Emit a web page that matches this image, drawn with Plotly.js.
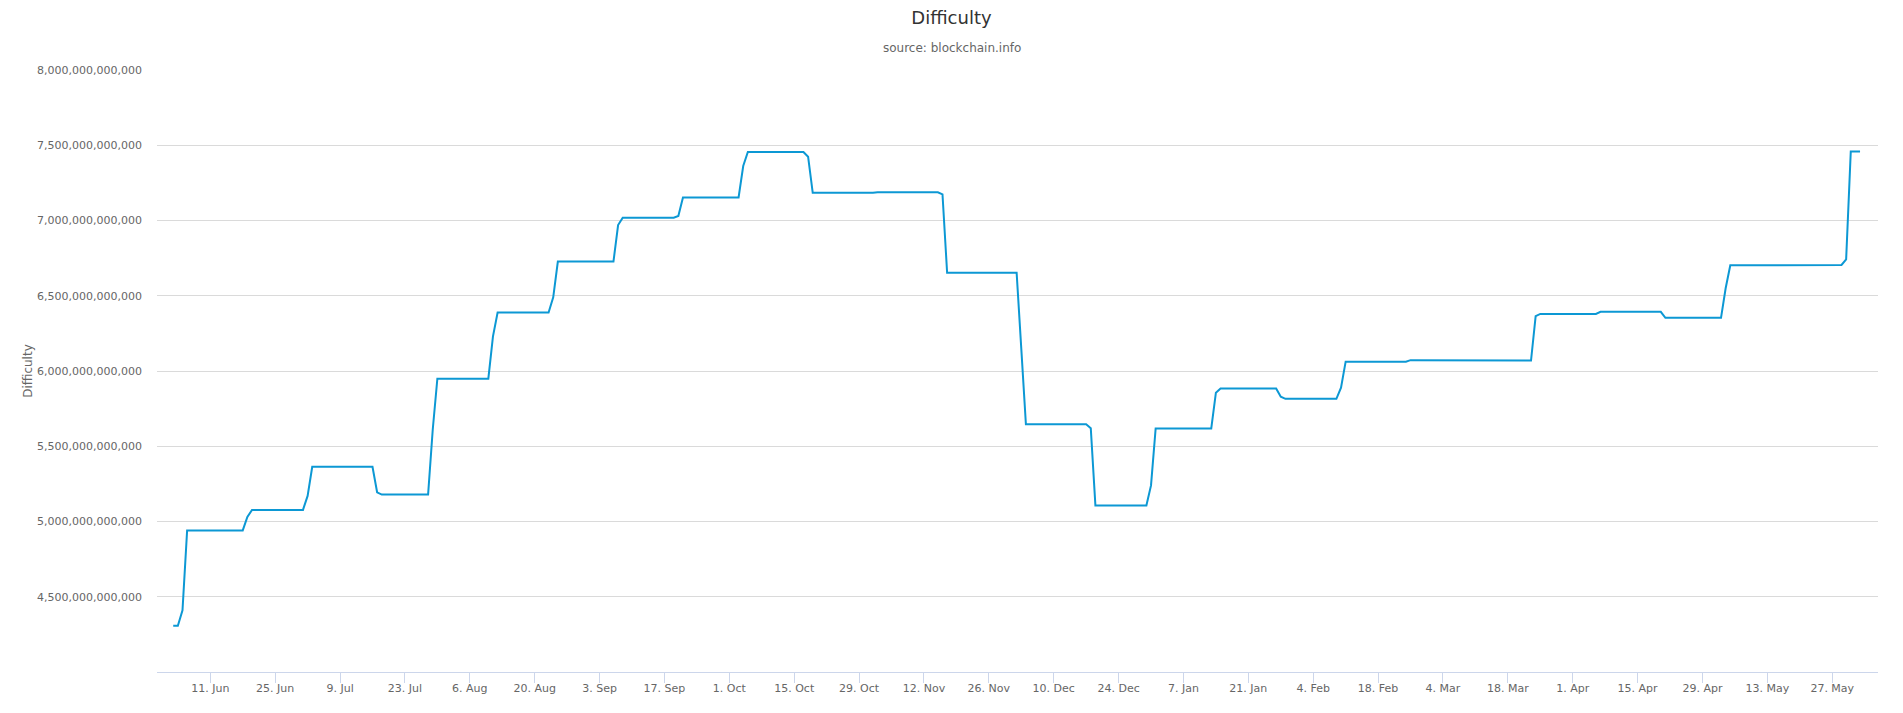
<!DOCTYPE html>
<html>
<head>
<meta charset="utf-8">
<script src="https://cdn.plot.ly/plotly-3.0.1.min.js"></script>
<style>html,body{margin:0;padding:0;background:#fff;}#chart{width:1903px;height:713px;}</style>
</head>
<body>
<div id="chart"></div>
<script>
// Difficulty readings (corner points of the step line)
const dates = [
  '2018-06-03','2018-06-04','2018-06-05','2018-06-06',
  '2018-06-18','2018-06-19','2018-06-20',
  '2018-07-01','2018-07-02','2018-07-03',
  '2018-07-16','2018-07-17','2018-07-18',
  '2018-07-28','2018-07-29','2018-07-30',
  '2018-08-10','2018-08-11','2018-08-12',
  '2018-08-23','2018-08-24','2018-08-25',
  '2018-09-06','2018-09-07','2018-09-08',
  '2018-09-19','2018-09-20','2018-09-21',
  '2018-10-03','2018-10-04','2018-10-05',
  '2018-10-17','2018-10-18','2018-10-19',
  '2018-11-01','2018-11-02',
  '2018-11-15','2018-11-16','2018-11-17',
  '2018-12-02','2018-12-03','2018-12-04',
  '2018-12-17','2018-12-18','2018-12-19',
  '2018-12-30','2018-12-31','2019-01-01',
  '2019-01-13','2019-01-14','2019-01-15',
  '2019-01-27','2019-01-28','2019-01-29',
  '2019-02-09','2019-02-10','2019-02-11',
  '2019-02-24','2019-02-25',
  '2019-03-11','2019-03-12',
  '2019-03-23','2019-03-24','2019-03-25',
  '2019-04-06','2019-04-07',
  '2019-04-20','2019-04-21',
  '2019-05-03','2019-05-04','2019-05-05',
  '2019-05-17','2019-05-18',
  '2019-05-29','2019-05-30','2019-05-31',
  '2019-06-02'
];
const difficulty = [
  4.307e12,4.307e12,4.41e12,4.941e12,
  4.941e12,5.03e12,5.077e12,
  5.077e12,5.17e12,5.364e12,
  5.364e12,5.194e12,5.179e12,
  5.179e12,5.61e12,5.949e12,
  5.949e12,6.23e12,6.389e12,
  6.389e12,6.49e12,6.727e12,
  6.727e12,6.97e12,7.019e12,
  7.019e12,7.03e12,7.153e12,
  7.153e12,7.362e12,7.455e12,
  7.455e12,7.424e12,7.184e12,
  7.184e12,7.187e12,
  7.187e12,7.174e12,6.653e12,
  6.653e12,6.15e12,5.646e12,
  5.646e12,5.62e12,5.106e12,
  5.106e12,5.24e12,5.618e12,
  5.618e12,5.856e12,5.884e12,
  5.884e12,5.829e12,5.815e12,
  5.815e12,5.889e12,6.062e12,
  6.062e12,6.072e12,
  6.072e12,6.069e12,
  6.069e12,6.365e12,6.379e12,
  6.379e12,6.393e12,
  6.393e12,6.353e12,
  6.353e12,6.55e12,6.702e12,
  6.702e12,6.705e12,
  6.705e12,6.742e12,7.459e12,
  7.459e12
];
const xTickVals = [
  '2018-06-11','2018-06-25','2018-07-09','2018-07-23','2018-08-06','2018-08-20',
  '2018-09-03','2018-09-17','2018-10-01','2018-10-15','2018-10-29','2018-11-12',
  '2018-11-26','2018-12-10','2018-12-24','2019-01-07','2019-01-21','2019-02-04',
  '2019-02-18','2019-03-04','2019-03-18','2019-04-01','2019-04-15','2019-04-29',
  '2019-05-13','2019-05-27'
];
const xTickText = [
  '11. Jun','25. Jun','9. Jul','23. Jul','6. Aug','20. Aug',
  '3. Sep','17. Sep','1. Oct','15. Oct','29. Oct','12. Nov',
  '26. Nov','10. Dec','24. Dec','7. Jan','21. Jan','4. Feb',
  '18. Feb','4. Mar','18. Mar','1. Apr','15. Apr','29. Apr',
  '13. May','27. May'
];
const yTickVals = [4.5e12,5e12,5.5e12,6e12,6.5e12,7e12,7.5e12,8e12];
const yTickText = [
  '4,500,000,000,000','5,000,000,000,000','5,500,000,000,000','6,000,000,000,000',
  '6,500,000,000,000','7,000,000,000,000','7,500,000,000,000','8,000,000,000,000'
];

const FONT = 'DejaVu Sans, Verdana, sans-serif';

const trace = {
  x: dates,
  y: difficulty,
  type: 'scatter',
  mode: 'lines',
  name: 'Difficulty',
  line: {color: '#0c98d4', width: 2},
  hoverinfo: 'x+y'
};

const layout = {
  width: 1903,
  height: 713,
  paper_bgcolor: '#ffffff',
  plot_bgcolor: '#ffffff',
  showlegend: false,
  margin: {l: 157, r: 25, t: 70, b: 41},
  font: {family: FONT, color: '#666666'},
  title: {
    text: 'Difficulty',
    font: {family: FONT, size: 18, color: '#333333'},
    x: 0.5, xref: 'container', xanchor: 'center',
    y: 1 - 18/713, yref: 'container', yanchor: 'middle'
  },
  xaxis: {
    type: 'date',
    range: ['2018-05-30 12:00', '2019-06-05 21:00'],
    tickmode: 'array',
    tickvals: xTickVals,
    ticktext: xTickText,
    ticks: 'outside',
    ticklen: 10,
    tickwidth: 1,
    tickcolor: '#ccd6eb',
    ticklabelstandoff: -4,
    showline: true,
    linecolor: '#ccd6eb',
    linewidth: 1,
    showgrid: false,
    zeroline: false,
    tickfont: {family: FONT, size: 11, color: '#666666'},
    automargin: false
  },
  yaxis: {
    range: [4e12, 8e12],
    tickmode: 'array',
    tickvals: yTickVals,
    ticktext: yTickText,
    ticks: '',
    showgrid: true,
    gridcolor: '#dadada',
    gridwidth: 1,
    zeroline: false,
    showline: false,
    ticklabelstandoff: 14,
    tickfont: {family: FONT, size: 11, color: '#666666'},
    title: {text: 'Difficulty', font: {family: FONT, size: 12, color: '#666666'}},
    automargin: false
  },
  annotations: [{
    text: 'source: blockchain.info',
    xref: 'paper', yref: 'paper',
    x: (952 - 157) / 1721, y: (672 - 48) / 602,
    xanchor: 'center', yanchor: 'middle',
    showarrow: false,
    font: {family: FONT, size: 12, color: '#666666'}
  }]
};

Plotly.newPlot('chart', [trace], layout, {displayModeBar: false, staticPlot: false});
</script>
</body>
</html>
